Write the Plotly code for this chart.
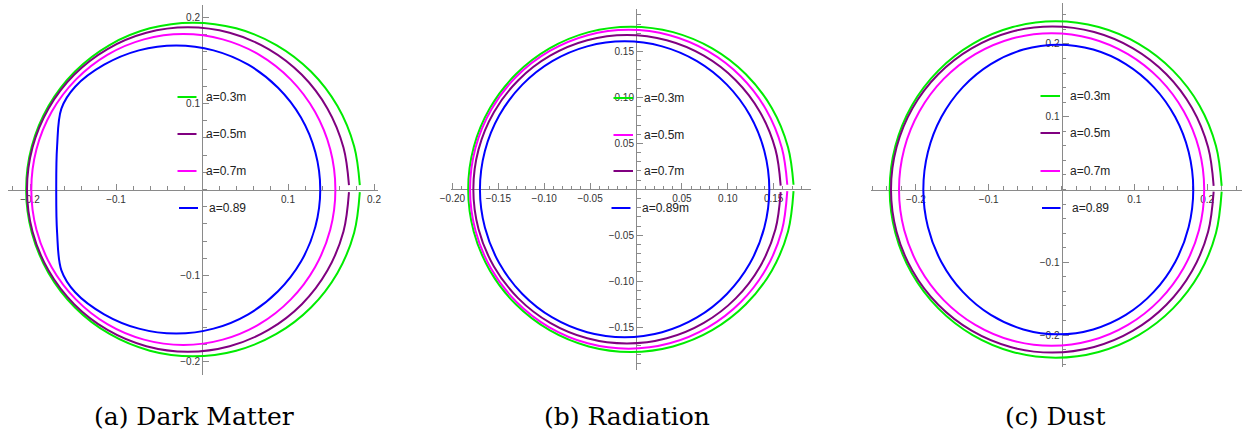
import plotly.graph_objects as go

# ---------------- data ----------------
CAPTIONS = ["(a) Dark Matter", "(b) Radiation", "(c) Dust"]

A_LABELS = ["a=0.3m", "a=0.5m", "a=0.7m", "a=0.89"]
B_LABELS = ["a=0.3m", "a=0.5m", "a=0.7m", "a=0.89m"]
C_LABELS = ["a=0.3m", "a=0.5m", "a=0.7m", "a=0.89"]

A_XTICKS = [-0.2, -0.1, 0.1, 0.2]
A_YTICKS = [-0.2, -0.1, 0.1, 0.2]
B_XTICKS = [-0.20, -0.15, -0.10, -0.05, 0.05, 0.10, 0.15]
B_YTICKS = [-0.15, -0.10, -0.05, 0.05, 0.10, 0.15]
C_XTICKS = [-0.2, -0.1, 0.1, 0.2]
C_YTICKS = [-0.2, -0.1, 0.1, 0.2]

# Panel (a) Dark Matter
A_G_X = [0.1835, 0.1769, 0.1575, 0.1267, 0.0865, 0.0397, -0.0105, -0.0607, -0.1075, -0.1477, -0.1785, -0.1979, -0.2045,
         -0.1979, -0.1785, -0.1477, -0.1075, -0.0607, -0.0105, 0.0397, 0.0865, 0.1267, 0.1575, 0.1769, 0.1835]
A_G_Y = [0.005, 0.0502, 0.097, 0.1372, 0.168, 0.1874, 0.194, 0.1874, 0.168, 0.1372, 0.097, 0.0502, 0.0,
         -0.0502, -0.097, -0.1372, -0.168, -0.1874, -0.194, -0.1874, -0.168, -0.1372, -0.097, -0.0502, -0.003]
A_P_X = [0.1709, 0.1645, 0.1458, 0.1161, 0.0773, 0.0321, -0.0163, -0.0647, -0.1099, -0.1487, -0.1784, -0.1971, -0.2035,
         -0.1971, -0.1784, -0.1487, -0.1099, -0.0647, -0.0163, 0.0321, 0.0773, 0.1161, 0.1458, 0.1645, 0.1709]
A_P_Y = [0.005, 0.0488, 0.0943, 0.1334, 0.1633, 0.1822, 0.1886, 0.1822, 0.1633, 0.1334, 0.0943, 0.0488, 0.0,
         -0.0488, -0.0943, -0.1334, -0.1633, -0.1822, -0.1886, -0.1822, -0.1633, -0.1334, -0.0943, -0.0488, -0.003]
A_M_X = [0.1551, 0.1491, 0.1314, 0.1033, 0.0667, 0.0241, -0.0217, -0.0675, -0.1101, -0.1467, -0.1748, -0.1925, -0.1985,
         -0.1925, -0.1748, -0.1467, -0.1101, -0.0675, -0.0217, 0.0241, 0.0667, 0.1033, 0.1314, 0.1491, 0.1551]
A_M_Y = [0.0, 0.0468, 0.0904, 0.1278, 0.1566, 0.1746, 0.1808, 0.1746, 0.1566, 0.1278, 0.0904, 0.0468, 0.0,
         -0.0468, -0.0904, -0.1278, -0.1566, -0.1746, -0.1808, -0.1746, -0.1566, -0.1278, -0.0904, -0.0468, 0.0]
A_B_X = [0.1375, 0.1318, 0.1151, 0.0884, 0.0538, 0.0134, -0.030, -0.0734, -0.1138, -0.1475, -0.1635, -0.1685, -0.1695,
         -0.1685, -0.1635, -0.1475, -0.1138, -0.0734, -0.030, 0.0134, 0.0538, 0.0884, 0.1151, 0.1318, 0.1375]
A_B_Y = [0.0, 0.0434, 0.0838, 0.1184, 0.1451, 0.1618, 0.1675, 0.1618, 0.1451, 0.1195, 0.094, 0.05, 0.0,
         -0.05, -0.094, -0.1195, -0.1451, -0.1618, -0.1675, -0.1618, -0.1451, -0.1184, -0.0838, -0.0434, 0.0]

# Panel (b) Radiation
B_G_X = [0.1716, 0.1656, 0.1479, 0.1197, 0.0830, 0.0403, -0.0056, -0.0515, -0.0942, -0.1309, -0.1591, -0.1768, -0.1828,
         -0.1768, -0.1591, -0.1309, -0.0942, -0.0515, -0.0056, 0.0403, 0.0830, 0.1197, 0.1479, 0.1656, 0.1716]
B_G_Y = [0.005, 0.0459, 0.0886, 0.1253, 0.1535, 0.1712, 0.1772, 0.1712, 0.1535, 0.1253, 0.0886, 0.0459, 0.0,
         -0.0459, -0.0886, -0.1253, -0.1535, -0.1712, -0.1772, -0.1712, -0.1535, -0.1253, -0.0886, -0.0459, -0.002]
B_M_X = [0.1648, 0.1589, 0.1416, 0.1142, 0.0784, 0.0367, -0.008, -0.0527, -0.0944, -0.1302, -0.1576, -0.1749, -0.1808,
         -0.1749, -0.1576, -0.1302, -0.0944, -0.0527, -0.008, 0.0367, 0.0784, 0.1142, 0.1416, 0.1589, 0.1648]
B_M_Y = [0.005, 0.045, 0.0869, 0.1228, 0.1504, 0.1678, 0.1737, 0.1678, 0.1504, 0.1228, 0.0869, 0.045, 0.0,
         -0.045, -0.0869, -0.1228, -0.1504, -0.1678, -0.1737, -0.1678, -0.1504, -0.1228, -0.0869, -0.045, -0.002]
B_P_X = [0.1576, 0.1519, 0.1352, 0.1086, 0.0739, 0.0335, -0.0098, -0.0531, -0.0935, -0.1282, -0.1548, -0.1715, -0.1772,
         -0.1715, -0.1548, -0.1282, -0.0935, -0.0531, -0.0098, 0.0335, 0.0739, 0.1086, 0.1352, 0.1519, 0.1576]
B_P_Y = [0.004, 0.0435, 0.084, 0.1188, 0.1455, 0.1623, 0.168, 0.1623, 0.1455, 0.1188, 0.084, 0.0435, 0.0,
         -0.0435, -0.084, -0.1188, -0.1455, -0.1623, -0.168, -0.1623, -0.1455, -0.1188, -0.084, -0.0435, -0.003]
B_B_X = [0.1452, 0.1398, 0.1241, 0.0990, 0.0664, 0.0284, -0.0124, -0.0532, -0.0912, -0.1238, -0.1489, -0.1646, -0.1700,
         -0.1646, -0.1489, -0.1238, -0.0912, -0.0532, -0.0124, 0.0284, 0.0664, 0.0990, 0.1241, 0.1398, 0.1452]
B_B_Y = [0.0, 0.0417, 0.0806, 0.114, 0.1396, 0.1557, 0.1612, 0.1557, 0.1396, 0.114, 0.0806, 0.0417, 0.0,
         -0.0417, -0.0806, -0.114, -0.1396, -0.1557, -0.1612, -0.1557, -0.1396, -0.114, -0.0806, -0.0417, 0.0]

# Panel (c) Dust
C_G_X = [0.220, 0.2122, 0.1895, 0.1532, 0.106, 0.051, -0.008, -0.067, -0.122, -0.1692, -0.2055, -0.2282, -0.236,
         -0.2282, -0.2055, -0.1692, -0.122, -0.067, -0.008, 0.051, 0.106, 0.1532, 0.1895, 0.2122, 0.220]
C_G_Y = [0.005, 0.0598, 0.1155, 0.1633, 0.2, 0.2231, 0.231, 0.2231, 0.2, 0.1633, 0.1155, 0.0598, 0.0,
         -0.0598, -0.1155, -0.1633, -0.2, -0.2231, -0.231, -0.2231, -0.2, -0.1633, -0.1155, -0.0598, -0.003]
C_P_X = [0.209, 0.2014, 0.1793, 0.1441, 0.0982, 0.0448, -0.0126, -0.070, -0.1234, -0.1693, -0.2045, -0.2266, -0.2342,
         -0.2266, -0.2045, -0.1693, -0.1234, -0.070, -0.0126, 0.0448, 0.0982, 0.1441, 0.1793, 0.2014, 0.209]
C_P_Y = [0.005, 0.058, 0.112, 0.1584, 0.194, 0.2164, 0.224, 0.2164, 0.194, 0.1584, 0.112, 0.058, 0.0,
         -0.058, -0.112, -0.1584, -0.194, -0.2164, -0.224, -0.2164, -0.194, -0.1584, -0.112, -0.058, -0.003]
C_M_X = [0.196, 0.1889, 0.1679, 0.1346, 0.0912, 0.0406, -0.0136, -0.0678, -0.1184, -0.1618, -0.1951, -0.2161, -0.2232,
         -0.2161, -0.1951, -0.1618, -0.1184, -0.0678, -0.0136, 0.0406, 0.0912, 0.1346, 0.1679, 0.1889, 0.196]
C_M_Y = [0.0, 0.0556, 0.1074, 0.1519, 0.186, 0.2075, 0.2148, 0.2075, 0.186, 0.1519, 0.1074, 0.0556, 0.0,
         -0.0556, -0.1074, -0.1519, -0.186, -0.2075, -0.2148, -0.2075, -0.186, -0.1519, -0.1074, -0.0556, 0.0]
C_B_X = [0.181, 0.1747, 0.1562, 0.1267, 0.0883, 0.0436, -0.0044, -0.0524, -0.0971, -0.1355, -0.165, -0.1835, -0.1898,
         -0.1835, -0.165, -0.1355, -0.0971, -0.0524, -0.0044, 0.0436, 0.0883, 0.1267, 0.1562, 0.1747, 0.181]
C_B_Y = [0.0, 0.0515, 0.0995, 0.1407, 0.1723, 0.1922, 0.199, 0.1922, 0.1723, 0.1407, 0.0995, 0.0515, 0.0,
         -0.0515, -0.0995, -0.1407, -0.1723, -0.1922, -0.199, -0.1922, -0.1723, -0.1407, -0.0995, -0.0515, 0.0]

# ---------------- styles / layout constants ----------------
W, H = 1247, 441
GREEN = "rgb(0,235,0)"
PURPLE = "rgb(128,0,128)"
MAGENTA = "rgb(255,0,255)"
BLUE = "rgb(0,0,255)"
AX_COL = "#8a8a8a"
TICK_FONT = dict(family="Liberation Sans, Arial, sans-serif", size=10, color="#333333")
LEG_FONT = dict(family="Liberation Sans, Arial, sans-serif", size=12, color="#222222")
CAP_FONT = dict(family="DejaVu Serif, serif", size=25, color="#000000")

# pixel geometry of each panel: origin x, origin y, px per unit, x extent, y extent
PANELS = [
    dict(ox=202.0, oy=189.5, s=860.0, x0=8, x1=378, y0=5, y1=375, minor=0.02, fmt=".1f",
         xt=A_XTICKS, yt=A_YTICKS, cap_x=194, labels=A_LABELS,
         curves=[(A_G_X, A_G_Y, GREEN), (A_P_X, A_P_Y, PURPLE), (A_M_X, A_M_Y, MAGENTA), (A_B_X, A_B_Y, BLUE)],
         leg_cols=[GREEN, PURPLE, MAGENTA, BLUE], leg_rows=[97, 134, 171, 208],
         lx0=[177.5, 177.5, 177.5, 179], lx1=[196.5, 196.5, 196.5, 198], tx=[204, 204, 204, 207]),
    dict(ox=636.0, oy=189.3, s=918.0, x0=451, x1=811, y0=9, y1=370, minor=0.01, fmt=".2f",
         xt=B_XTICKS, yt=B_YTICKS, cap_x=627, labels=B_LABELS,
         curves=[(B_G_X, B_G_Y, GREEN), (B_M_X, B_M_Y, MAGENTA), (B_P_X, B_P_Y, PURPLE), (B_B_X, B_B_Y, BLUE)],
         leg_cols=[GREEN, MAGENTA, PURPLE, BLUE], leg_rows=[98, 135, 171, 208],
         lx0=[613.5, 613.5, 613.5, 611.5], lx1=[633, 633, 633, 630.5], tx=[641.5, 641.5, 641.5, 639.5]),
    dict(ox=1061.5, oy=189.5, s=728.0, x0=871, x1=1242, y0=3, y1=367, minor=0.02, fmt=".1f",
         xt=C_XTICKS, yt=C_YTICKS, cap_x=1055, labels=C_LABELS,
         curves=[(C_G_X, C_G_Y, GREEN), (C_P_X, C_P_Y, PURPLE), (C_M_X, C_M_Y, MAGENTA), (C_B_X, C_B_Y, BLUE)],
         leg_cols=[GREEN, PURPLE, MAGENTA, BLUE], leg_rows=[96, 133, 171, 208],
         lx0=[1040.5, 1040.5, 1040.5, 1042], lx1=[1060, 1060, 1060, 1060.5], tx=[1067.5, 1067.5, 1067.5, 1070]),
]


def px_x(p):
    return p / W


def px_y(p):
    return 1 - p / H


fig = go.Figure()
shapes, annotations = [], []
layout_axes = {}

for i, P in enumerate(PANELS):
    n = "" if i == 0 else str(i + 1)
    xr = [(P["x0"] - P["ox"]) / P["s"], (P["x1"] - P["ox"]) / P["s"]]
    yr = [(P["oy"] - P["y1"]) / P["s"], (P["oy"] - P["y0"]) / P["s"]]
    common = dict(
        showline=True, linecolor=AX_COL, linewidth=1,
        ticks="inside", ticklen=6, tickwidth=1, tickcolor=AX_COL,
        tickmode="array", tickformat=P["fmt"],
        showgrid=False, zeroline=False, tickfont=TICK_FONT,
        minor=dict(ticks="inside", ticklen=3.5, tickwidth=1, tickcolor=AX_COL,
                   tickmode="linear", tick0=0, dtick=P["minor"], showgrid=False),
        automargin=False, fixedrange=True, layer="below traces", anchor="free",
    )
    layout_axes["xaxis" + n] = dict(common, range=xr, tickvals=P["xt"],
                                    domain=[px_x(P["x0"]), px_x(P["x1"])],
                                    position=px_y(P["oy"]), side="bottom")
    layout_axes["yaxis" + n] = dict(common, range=yr, tickvals=P["yt"],
                                    domain=[px_y(P["y1"]), px_y(P["y0"])],
                                    position=px_x(P["ox"]), side="left")

    for cx, cy, col in P["curves"]:
        fig.add_trace(go.Scatter(
            x=cx, y=cy, mode="lines",
            line=dict(color=col, width=2, shape="spline", smoothing=1.0, simplify=False),
            xaxis="x" + n, yaxis="y" + n, showlegend=False, hoverinfo="skip"))

    for k, lab in enumerate(P["labels"]):
        yy = px_y(P["leg_rows"][k])
        shapes.append(dict(type="line", xref="paper", yref="paper",
                           x0=px_x(P["lx0"][k]), x1=px_x(P["lx1"][k]), y0=yy, y1=yy,
                           line=dict(color=P["leg_cols"][k], width=2)))
        annotations.append(dict(text=lab, xref="paper", yref="paper",
                                x=px_x(P["tx"][k]), y=yy, xanchor="left", yanchor="middle",
                                showarrow=False, font=LEG_FONT))

    annotations.append(dict(text=CAPTIONS[i], xref="paper", yref="paper",
                            x=px_x(P["cap_x"]), y=px_y(416), xanchor="center", yanchor="middle",
                            showarrow=False, font=CAP_FONT))

fig.update_layout(
    width=W, height=H, autosize=False,
    margin=dict(l=0, r=0, t=0, b=0, pad=0),
    paper_bgcolor="white", plot_bgcolor="white",
    shapes=shapes, annotations=annotations,
    **layout_axes,
)

fig.write_html("out.html", config={"displayModeBar": False})
